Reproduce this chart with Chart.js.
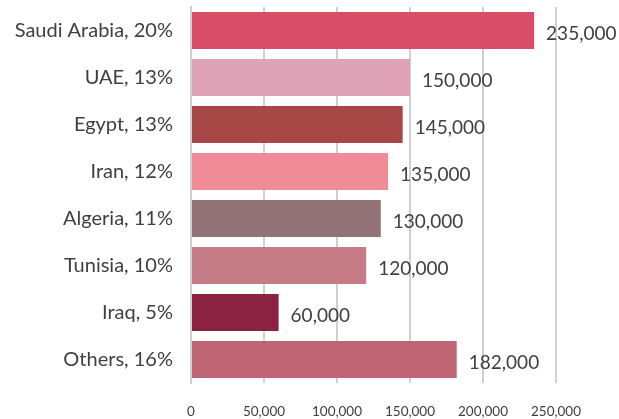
<!DOCTYPE html>
<html>
<head>
<meta charset="utf-8">
<script src="https://cdn.jsdelivr.net/npm/chart.js@4.4.1/dist/chart.umd.min.js"></script>
<style>
  html, body { margin: 0; padding: 0; background: #fff; }
  #wrap { width: 619px; height: 419px; }
</style>
</head>
<body>
<div id="wrap"><canvas id="c"></canvas></div>
<script>
const CATEGORIES = ["Saudi Arabia, 20%", "UAE, 13%", "Egypt, 13%", "Iran, 12%",
                    "Algeria, 11%", "Tunisia, 10%", "Iraq, 5%", "Others, 16%"];
const VALUES = [235000, 150000, 145000, 135000, 130000, 120000, 60000, 182000];
const BAR_COLORS = ["#D94D68", "#DFA3B8", "#A84846", "#EF8C98",
                    "#937278", "#C57C86", "#8C2241", "#BF6574"];
const X_TICKS = [0, 50000, 100000, 150000, 200000, 250000];

const TEXT = "#404040";
const FONT = "Lato, 'Open Sans', sans-serif";

/* value labels at the end of each bar */
const barValues = {
  id: "barValues",
  afterDatasetsDraw(chart) {
    const { ctx } = chart;
    const meta = chart.getDatasetMeta(0);
    ctx.save();
    ctx.font = "19px " + FONT;
    ctx.fillStyle = TEXT;
    ctx.textAlign = "left";
    ctx.textBaseline = "middle";
    meta.data.forEach((bar, i) => {
      ctx.fillText(VALUES[i].toLocaleString("en-US"), bar.x + 12, bar.y + 3);
    });
    ctx.restore();
  },
};

new Chart(document.getElementById("c"), {
  type: "bar",
  data: {
    labels: CATEGORIES,
    datasets: [{
      data: VALUES,
      backgroundColor: BAR_COLORS,
      borderWidth: 0,
      categoryPercentage: 0.79,
      barPercentage: 1,
    }],
  },
  options: {
    indexAxis: "y",
    responsive: true,
    maintainAspectRatio: false,
    animation: false,
    layout: { padding: { top: 7, right: 63, left: 0, bottom: 0 } },
    plugins: { legend: { display: false }, tooltip: { enabled: false } },
    scales: {
      x: {
        min: 0, max: 250000,
        afterBuildTicks: s => { s.ticks = X_TICKS.map(v => ({ value: v })); },
        afterFit: s => { s.height = 36; s.paddingLeft = 0; s.paddingRight = 0; },
        grid: { color: "#d0d0d0", lineWidth: 2, drawTicks: false },
        border: { display: false },
        ticks: {
          color: TEXT, font: { family: FONT, size: 13.5 }, padding: 21,
          callback: v => v.toLocaleString("en-US"),
        },
      },
      y: {
        afterFit: s => { s.width = 191; s.paddingTop = 0; s.paddingBottom = 0; },
        grid: { display: false, drawTicks: false },
        border: { color: "#d0d0d0", width: 2 },
        ticks: { color: TEXT, font: { family: FONT, size: 20 }, padding: 18 },
      },
    },
  },
  plugins: [barValues],
});
</script>
</body>
</html>
